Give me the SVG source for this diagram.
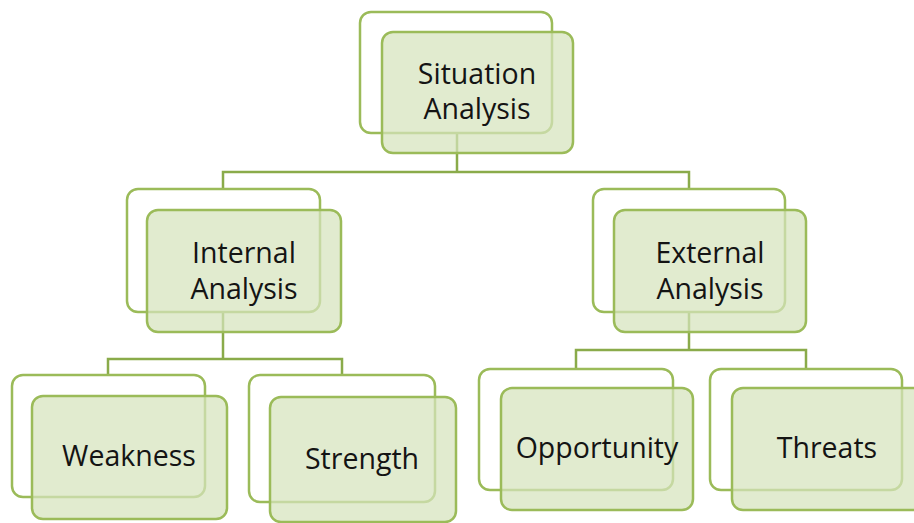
<svg xmlns="http://www.w3.org/2000/svg" width="914" height="523" viewBox="0 0 914 523">
<style>
.back{fill:#ffffff;stroke:#9bbb59;stroke-width:2.5}
.front{fill:#d6e3bc;fill-opacity:0.72;stroke:#9bbb59;stroke-width:2.5}
.conn{fill:none;stroke:#8aab4a;stroke-width:2.5}
text{font-family:"Open Sans","Noto Sans","Liberation Sans",sans-serif;font-size:28.5px;fill:#141414;text-anchor:middle}
</style>
<rect width="914" height="523" fill="#ffffff"/>
<g id="connectors" class="conn">
<path d="M457 133 V172 M223 189 V172 H689 V189"/>
<path d="M223 312 V359 M108 375 V359 H342 V375"/>
<path d="M689 312 V350 M576 369 V350 H806 V369"/>
</g>
<g id="situation">
<rect class="back" x="360" y="12" width="192" height="121" rx="11"/>
<rect class="front" x="382" y="32" width="191" height="121" rx="11"/>
<text x="477" y="84">Situation</text>
<text x="477" y="119">Analysis</text>
</g>
<g id="internal">
<rect class="back" x="127" y="189" width="193" height="123" rx="11"/>
<rect class="front" x="147" y="210" width="194" height="122" rx="11"/>
<text x="244" y="263">Internal</text>
<text x="244" y="299">Analysis</text>
</g>
<g id="external">
<rect class="back" x="593" y="189" width="192" height="123" rx="11"/>
<rect class="front" x="614" y="210" width="192" height="122" rx="11"/>
<text x="710" y="263">External</text>
<text x="710" y="299">Analysis</text>
</g>
<g id="weakness">
<rect class="back" x="12" y="375" width="193" height="122" rx="11"/>
<rect class="front" x="32" y="396" width="195" height="123" rx="11"/>
<text x="129" y="466">Weakness</text>
</g>
<g id="strength">
<rect class="back" x="249" y="375" width="186" height="127" rx="11"/>
<rect class="front" x="270" y="397" width="186" height="125" rx="11"/>
<text x="362" y="469">Strength</text>
</g>
<g id="opportunity">
<rect class="back" x="479" y="369" width="194" height="121" rx="11"/>
<rect class="front" x="501" y="388" width="192" height="122" rx="11"/>
<text x="597" y="458">Opportunity</text>
</g>
<g id="threats">
<rect class="back" x="710" y="369" width="192" height="121" rx="11"/>
<rect class="front" x="732" y="388" width="192" height="122" rx="11"/>
<text x="827" y="458">Threats</text>
</g>
</svg>
